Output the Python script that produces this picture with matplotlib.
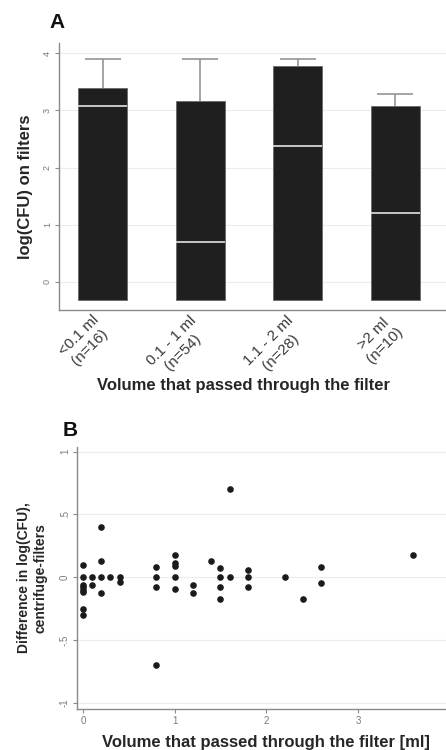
import numpy as np
import matplotlib
matplotlib.use('Agg')
import matplotlib.pyplot as plt
from matplotlib.transforms import ScaledTranslation

plt.rcParams['font.family'] = ['Liberation Sans', 'DejaVu Sans']

# panel A: box summaries per volume group
groups = ['<0.1 ml\n(n=16)', '0.1 - 1 ml\n(n=54)', '1.1 - 2 ml\n(n=28)', '>2 ml\n(n=10)']
box_low = [-0.31, -0.31, -0.31, -0.31]
box_high = [3.4, 3.17, 3.78, 3.08]
medians = [3.07, 0.7, 2.38, 1.2]
whisker_high = [3.9, 3.9, 3.9, 3.29]

# panel B: difference vs volume
vol = [0, 0, 0, 0, 0, 0, 0, 0,
       0.1, 0.1,
       0.2, 0.2, 0.2, 0.2,
       0.3,
       0.4, 0.4,
       0.8, 0.8, 0.8, 0.8,
       1.0, 1.0, 1.0, 1.0, 1.0,
       1.2, 1.2,
       1.4,
       1.5, 1.5, 1.5, 1.5,
       1.6, 1.6,
       1.8, 1.8, 1.8,
       2.2,
       2.4,
       2.6, 2.6,
       3.6]
diff = [0.1, 0, -0.06, -0.08, -0.1, -0.12, -0.25, -0.3,
        0, -0.065,
        0.4, 0.125, 0, -0.125,
        0,
        0, -0.04,
        0.08, 0, -0.075, -0.7,
        0.18, 0.11, 0.085, 0, -0.095,
        -0.065, -0.125,
        0.125,
        0.07, 0, -0.075, -0.175,
        0.7, 0,
        0.055, 0, -0.075,
        0,
        -0.175,
        0.08, -0.045,
        0.18]

axis_col = '#8a8a8a'
tick_col = '#7a7a7a'
grid_col = '#ececec'
text_col = '#262626'

fig = plt.figure(figsize=(4.46, 7.5), dpi=100)

# ---- panel A ----
axA = fig.add_axes([0.132, 0.5867, 0.868, 0.356])
x = np.arange(1, len(groups) + 1)
low = np.array(box_low)
high = np.array(box_high)
axA.set_axisbelow(True)
axA.yaxis.grid(True, color=grid_col, lw=0.8)
axA.vlines(x, high, whisker_high, color='#8c8c8c', lw=1.1, zorder=1)
axA.hlines(whisker_high, x - 0.185, x + 0.185, color='#8c8c8c', lw=1.1, zorder=1)
axA.bar(x, high - low, bottom=low, width=0.5, color='#1f1f1f',
        edgecolor='#6a6a6a', lw=0.6, zorder=2)
axA.hlines(medians, x - 0.25, x + 0.25, color='#d4d4d4', lw=1.3, zorder=3)
axA.set_xlim(0.55, 4.52)
axA.set_ylim(-0.49, 4.18)
axA.set_yticks([0, 1, 2, 3, 4])
axA.set_xticks(x)
axA.set_xticklabels([])
# rotated category labels, nudged right of the tick like the original
shift = ScaledTranslation(10 / 100, -3 / 100, fig.dpi_scale_trans)
for xi, g in zip(x, groups):
    axA.text(xi, 0, g, transform=axA.get_xaxis_transform() + shift,
             rotation=45, ha='right', va='top', multialignment='center',
             fontsize=11, color='#3a3a3a')
axA.tick_params(axis='x', length=0)
axA.tick_params(axis='y', length=3, color=axis_col, labelsize=6.5,
                labelcolor=tick_col, pad=2)
for lab in axA.get_yticklabels():
    lab.set_rotation(90)
    lab.set_va('center')
for s in ['top', 'right']:
    axA.spines[s].set_visible(False)
for s in ['left', 'bottom']:
    axA.spines[s].set_color(axis_col)
    axA.spines[s].set_linewidth(1.0)
axA.set_ylabel('log(CFU) on filters', fontsize=12, fontweight='bold',
               color=text_col)
axA.yaxis.set_label_coords(-0.067, 0.46)
axA.set_xlabel('Volume that passed through the filter', fontsize=12,
               fontweight='bold', color=text_col)
axA.xaxis.set_label_coords(0.478, -0.255)
fig.text(0.112, 0.963, 'A', fontsize=15, fontweight='bold', color='#111111')

# ---- panel B ----
axB = fig.add_axes([0.1726, 0.0547, 0.8274, 0.3493])
axB.set_axisbelow(True)
axB.set_yticks([-1, -0.5, 0, 0.5, 1])
axB.set_yticklabels(['-1', '-.5', '0', '.5', '1'])
axB.yaxis.grid(True, color=grid_col, lw=0.8)
axB.scatter(vol, diff, s=14, color='#1a1a1a', zorder=3)
axB.set_xlim(-0.065, 3.96)
axB.set_ylim(-1.05, 1.036)
axB.set_xticks([0, 1, 2, 3])
axB.tick_params(axis='both', length=3, color=axis_col, labelsize=7,
                labelcolor=tick_col, pad=2)
for lab in axB.get_yticklabels():
    lab.set_rotation(90)
    lab.set_va('center')
for s in ['top', 'right']:
    axB.spines[s].set_visible(False)
for s in ['left', 'bottom']:
    axB.spines[s].set_color(axis_col)
    axB.spines[s].set_linewidth(1.0)
axB.set_ylabel('Difference in log(CFU),\ncentrifuge-filters', fontsize=10,
               fontweight='bold', color=text_col)
axB.yaxis.set_label_coords(-0.081, 0.5)
axB.set_xlabel('Volume that passed through the filter [ml]', fontsize=12,
               fontweight='bold', color=text_col)
axB.xaxis.set_label_coords(0.512, -0.099)
fig.text(0.141, 0.418, 'B', fontsize=15, fontweight='bold', color='#111111')

fig.savefig('out.png', dpi=100)
